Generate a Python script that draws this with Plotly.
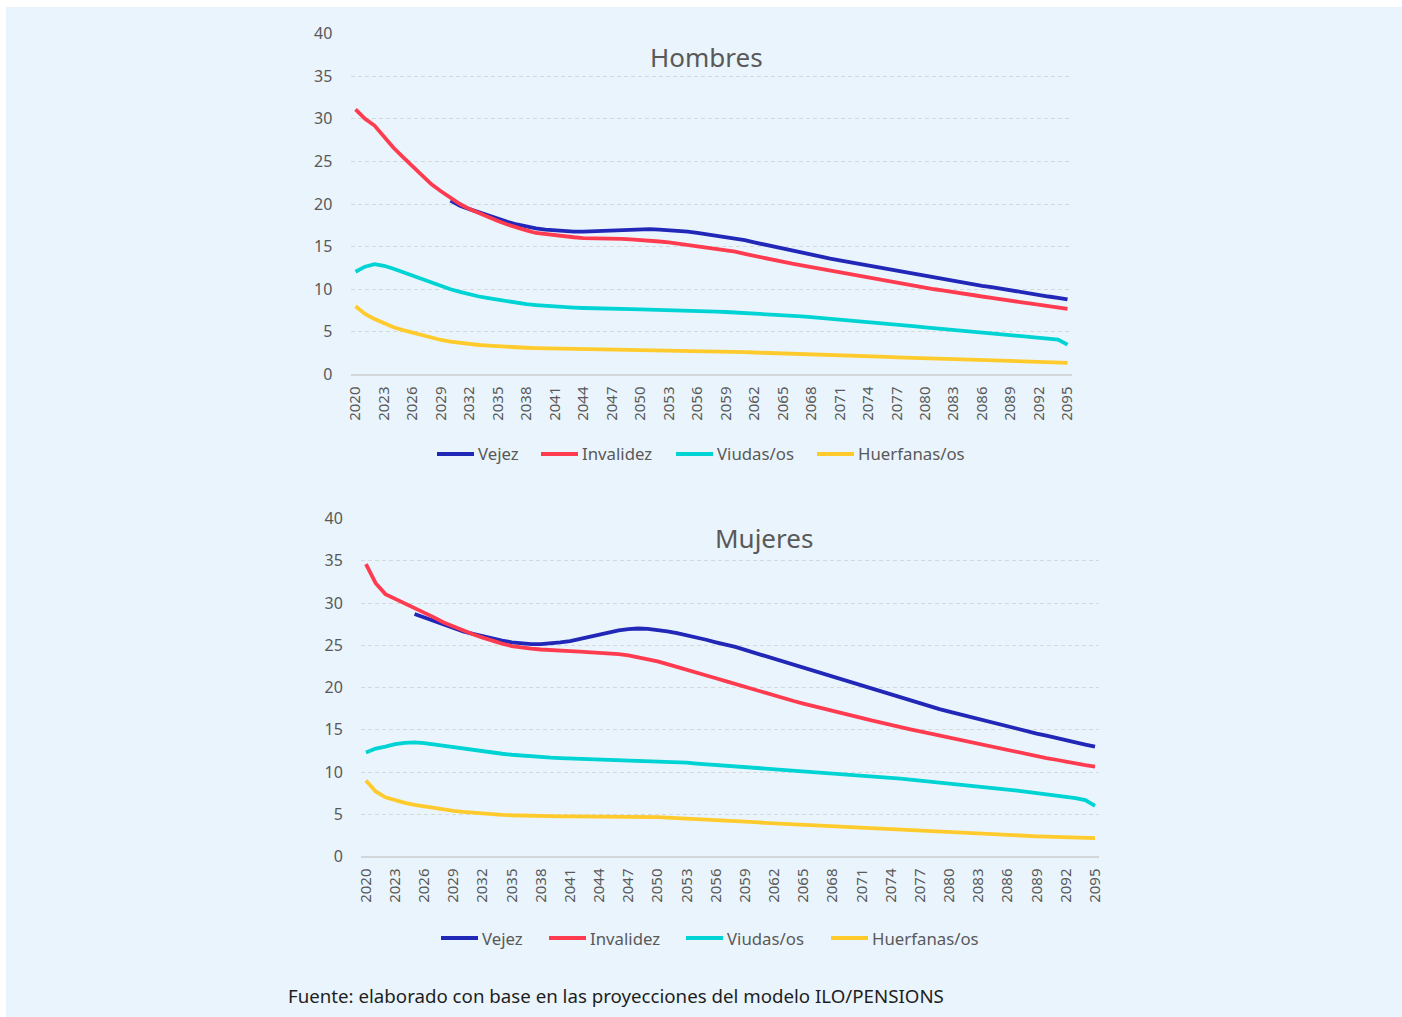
import plotly.graph_objects as go

# Años proyectados
years = list(range(2020, 2096))
tick_years = list(range(2020, 2096, 3))
tick_labels = [str(y) for y in tick_years]

series_names = ["Vejez", "Invalidez", "Viudas/os", "Huerfanas/os"]
series_colors = ["#2127B7", "#FF3B50", "#00D3D3", "#FFCA2C"]

# Hombres
h_vejez = [None] * 10 + [
    20.4, 19.8, 19.4, 19.0, 18.6, 18.2, 17.9, 17.6, 17.35, 17.15,
    17.0, 16.9, 16.8, 16.75, 16.75, 16.8, 16.85, 16.9, 16.95, 17.0,
    17.05, 17.05, 17.0, 16.95, 16.85, 16.75, 16.6, 16.45, 16.3, 16.15,
    16.0, 15.75, 15.5, 15.25, 15.0, 14.75, 14.5, 14.25, 14.0, 13.8,
    13.6, 13.4, 13.2, 13.0, 12.8, 12.55, 12.35, 12.15, 11.9, 11.7,
    11.5, 11.3, 11.1, 10.95, 10.75, 10.6, 10.4, 10.25, 10.05, 9.9,
    9.7, 9.5, 9.35, 9.15, 9.0, 8.8,
]
h_invalidez = [
    31.1, 30.0, 29.2, 27.9, 26.6, 25.5, 24.4, 23.3, 22.3, 21.5,
    20.7, 20.0, 19.4, 18.9, 18.4, 18.0, 17.6, 17.2, 16.9, 16.6,
    16.45, 16.3, 16.2, 16.1, 16.0, 16.0, 15.95, 15.9, 15.9, 15.85,
    15.8, 15.7, 15.6, 15.5, 15.35, 15.25, 15.1, 14.9, 14.75, 14.55,
    14.4, 14.15, 13.9, 13.7, 13.45, 13.25, 13.0, 12.8, 12.6, 12.35,
    12.15, 11.95, 11.75, 11.55, 11.35, 11.1, 10.9, 10.75, 10.55, 10.35,
    10.2, 10.0, 9.85, 9.65, 9.5, 9.3, 9.15, 9.0, 8.8, 8.65,
    8.5, 8.35, 8.2, 8.0, 7.85, 7.7,
]
h_viudas = [
    12.05, 12.65, 12.95, 12.75, 12.4, 12.0, 11.55, 11.1, 10.7, 10.3,
    10.0, 9.7, 9.4, 9.15, 8.95, 8.75, 8.55, 8.4, 8.25, 8.15,
    8.05, 7.95, 7.9, 7.85, 7.8, 7.75, 7.72, 7.7, 7.68, 7.66,
    7.64, 7.62, 7.6, 7.58, 7.55, 7.5, 7.46, 7.42, 7.37, 7.33,
    7.28, 7.22, 7.16, 7.12, 7.05, 6.97, 6.9, 6.82, 6.74, 6.65,
    6.56, 6.47, 6.37, 6.28, 6.18, 6.08, 5.98, 5.87, 5.76, 5.65,
    5.53, 5.43, 5.33, 5.23, 5.13, 5.03, 4.93, 4.83, 4.73, 4.63,
    4.53, 4.43, 4.33, 4.23, 4.1, 3.5,
]
h_huerfanas = [
    8.0, 7.1, 6.5, 6.0, 5.55, 5.2, 4.9, 4.55, 4.3, 4.05,
    3.85, 3.7, 3.57, 3.46, 3.38, 3.3, 3.23, 3.18, 3.14, 3.1,
    3.08, 3.06, 3.05, 3.03, 3.02, 3.0, 2.99, 2.98, 2.96, 2.95,
    2.94, 2.92, 2.89, 2.87, 2.84, 2.81, 2.78, 2.75, 2.72, 2.69,
    2.66, 2.62, 2.58, 2.55, 2.51, 2.48, 2.45, 2.42, 2.39, 2.35,
    2.32, 2.28, 2.24, 2.19, 2.15, 2.11, 2.07, 2.02, 1.98, 1.93,
    1.88, 1.83, 1.8, 1.77, 1.73, 1.7, 1.67, 1.64, 1.61, 1.58,
    1.55, 1.52, 1.48, 1.45, 1.41, 1.37,
]

# Mujeres
m_vejez = [None] * 5 + [
    28.7, 28.3, 27.85, 27.4, 27.0,
    26.65, 26.35, 26.05, 25.8, 25.55, 25.35, 25.2, 25.13, 25.13, 25.2,
    25.33, 25.5, 25.75, 26.0, 26.27, 26.55, 26.75, 26.9, 26.98, 26.94,
    26.82, 26.63, 26.43, 26.2, 25.95, 25.65, 25.35, 25.1, 24.8, 24.45,
    24.1, 23.7, 23.35, 23.0, 22.6, 22.25, 21.9, 21.55, 21.2, 20.85,
    20.5, 20.15, 19.8, 19.45, 19.1, 18.75, 18.4, 18.1, 17.75, 17.45,
    17.15, 16.85, 16.55, 16.25, 15.95, 15.65, 15.35, 15.1, 14.85, 14.55,
    14.3, 14.0, 13.75, 13.5, 13.25, 13.0,
]
m_invalidez = [
    34.6, 32.35, 31.05, 30.5, 30.0, 29.5, 28.9, 28.3, 27.7, 27.2,
    26.7, 26.3, 25.9, 25.5, 25.2, 24.9, 24.7, 24.6, 24.5, 24.4,
    24.35, 24.3, 24.25, 24.2, 24.15, 24.05, 23.95, 23.8, 23.6, 23.35,
    23.1, 22.76, 22.45, 22.13, 21.8, 21.46, 21.1, 20.75, 20.4, 20.05,
    19.7, 19.35, 19.0, 18.7, 18.4, 18.1, 17.8, 17.5, 17.25, 16.95,
    16.65, 16.4, 16.1, 15.85, 15.55, 15.3, 15.05, 14.8, 14.55, 14.3,
    14.05, 13.8, 13.55, 13.3, 13.05, 12.8, 12.55, 12.35, 12.1, 11.9,
    11.65, 11.45, 11.2, 11.0, 10.8, 10.65,
]
m_viudas = [
    12.3, 12.78, 13.0, 13.3, 13.45, 13.5, 13.42, 13.25, 13.08, 12.92,
    12.76, 12.6, 12.45, 12.3, 12.16, 12.04, 11.93, 11.84, 11.76, 11.69,
    11.64, 11.6, 11.57, 11.55, 11.52, 11.49, 11.46, 11.43, 11.39, 11.35,
    11.3, 11.24, 11.17, 11.1, 11.0, 10.92, 10.84, 10.76, 10.68, 10.6,
    10.51, 10.43, 10.35, 10.27, 10.19, 10.11, 10.03, 9.95, 9.87, 9.78,
    9.69, 9.6, 9.5, 9.41, 9.31, 9.22, 9.11, 9.0, 8.9, 8.78,
    8.66, 8.54, 8.42, 8.3, 8.17, 8.05, 7.92, 7.79, 7.66, 7.52,
    7.38, 7.24, 7.1, 6.92, 6.68, 6.0,
]
m_huerfanas = [
    9.0, 7.7, 7.0, 6.63, 6.35, 6.12, 5.92, 5.73, 5.56, 5.4,
    5.28, 5.17, 5.08, 5.0, 4.93, 4.88, 4.84, 4.8, 4.77, 4.76,
    4.76, 4.76, 4.76, 4.76, 4.76, 4.75, 4.74, 4.73, 4.71, 4.68,
    4.65, 4.6, 4.55, 4.5, 4.46, 4.39, 4.33, 4.27, 4.2, 4.13,
    4.06, 3.99, 3.93, 3.88, 3.82, 3.76, 3.7, 3.64, 3.58, 3.51,
    3.45, 3.38, 3.32, 3.27, 3.21, 3.15, 3.1, 3.04, 2.98, 2.92,
    2.86, 2.8, 2.74, 2.68, 2.62, 2.57, 2.52, 2.47, 2.43, 2.39,
    2.35, 2.31, 2.27, 2.23, 2.2, 2.17,
]

W, H = 1402, 1017
FONT = "Noto Sans"
GREY = "#595959"
BG = "#EAF4FC"


def px(x):
    return x / W


def py(y):
    return 1 - y / H


fig = go.Figure()

panels = [
    ("x", "y", [h_vejez, h_invalidez, h_viudas, h_huerfanas]),
    ("x2", "y2", [m_vejez, m_invalidez, m_viudas, m_huerfanas]),
]
for xa, ya, data in panels:
    for name, color, vals in zip(series_names, series_colors, data):
        fig.add_trace(go.Scatter(
            x=years, y=vals, name=name, mode="lines",
            line=dict(color=color, width=3.8),
            xaxis=xa, yaxis=ya, showlegend=False, connectgaps=False,
        ))

common_x = dict(
    tickmode="array", tickvals=tick_years, ticktext=tick_labels,
    tickangle=-90, showgrid=False, zeroline=False, showline=False,
    ticks="outside", ticklen=5, tickcolor="rgba(0,0,0,0)", automargin=False,
    tickfont=dict(family=FONT, size=15, color=GREY),
)
common_y = dict(
    range=[0, 40], tickvals=[0, 5, 10, 15, 20, 25, 30, 35, 40],
    showgrid=True, gridcolor="#D6D9DC", griddash="4px,3px", gridwidth=1,
    zeroline=True, zerolinecolor="#D3D6D9", zerolinewidth=1.5,
    showline=False, ticks="outside", ticklen=14, tickcolor="rgba(0,0,0,0)",
    automargin=False, tickfont=dict(family=FONT, size=16, color=GREY),
)

fig.update_layout(
    width=W, height=H,
    margin=dict(l=0, r=0, t=0, b=0, pad=0, autoexpand=False),
    paper_bgcolor="white", plot_bgcolor="rgba(0,0,0,0)",
    showlegend=False,
    xaxis=dict(domain=[px(350.5), px(1071.5)], range=[2019.47, 2095.42], **common_x),
    yaxis=dict(domain=[py(374.5), py(33.5)], **common_y),
    xaxis2=dict(domain=[px(361), px(1099)], range=[2019.49, 2095.41], anchor="y2", **common_x),
    yaxis2=dict(domain=[py(856.5), py(518.5)], anchor="x2", **common_y),
)

# Fondo celeste del panel
fig.add_shape(type="rect", xref="paper", yref="paper",
              x0=px(6), x1=1, y0=0, y1=py(7),
              fillcolor=BG, line=dict(width=0), layer="below")

# Títulos dentro del área de trazado
for title, tx, ty in [("Hombres", 706, 57), ("Mujeres", 764, 538)]:
    fig.add_annotation(text=title, x=px(tx), y=py(ty), xref="paper", yref="paper",
                       xanchor="center", yanchor="middle", showarrow=False,
                       font=dict(family=FONT, size=26, color=GREY))

# Leyendas dibujadas bajo cada gráfico
legend_rows = [
    (454, [437, 541, 676, 817]),
    (938, [441, 549, 686, 831]),
]
for ly, starts in legend_rows:
    for name, color, x0 in zip(series_names, series_colors, starts):
        fig.add_shape(type="line", xref="paper", yref="paper",
                      x0=px(x0), x1=px(x0 + 37), y0=py(ly), y1=py(ly),
                      line=dict(color=color, width=4))
        fig.add_annotation(text=name, x=px(x0 + 39), y=py(ly), xref="paper", yref="paper",
                           xanchor="left", yanchor="middle", showarrow=False,
                           font=dict(family=FONT, size=16.8, color=GREY))

# Fuente
fig.add_annotation(text="Fuente: elaborado con base en las proyecciones del modelo ILO/PENSIONS",
                   x=px(286), y=py(995), xref="paper", yref="paper",
                   xanchor="left", yanchor="middle", showarrow=False,
                   font=dict(family=FONT, size=18.7, color="#1E1E1E"))

fig.write_html("out.html")
